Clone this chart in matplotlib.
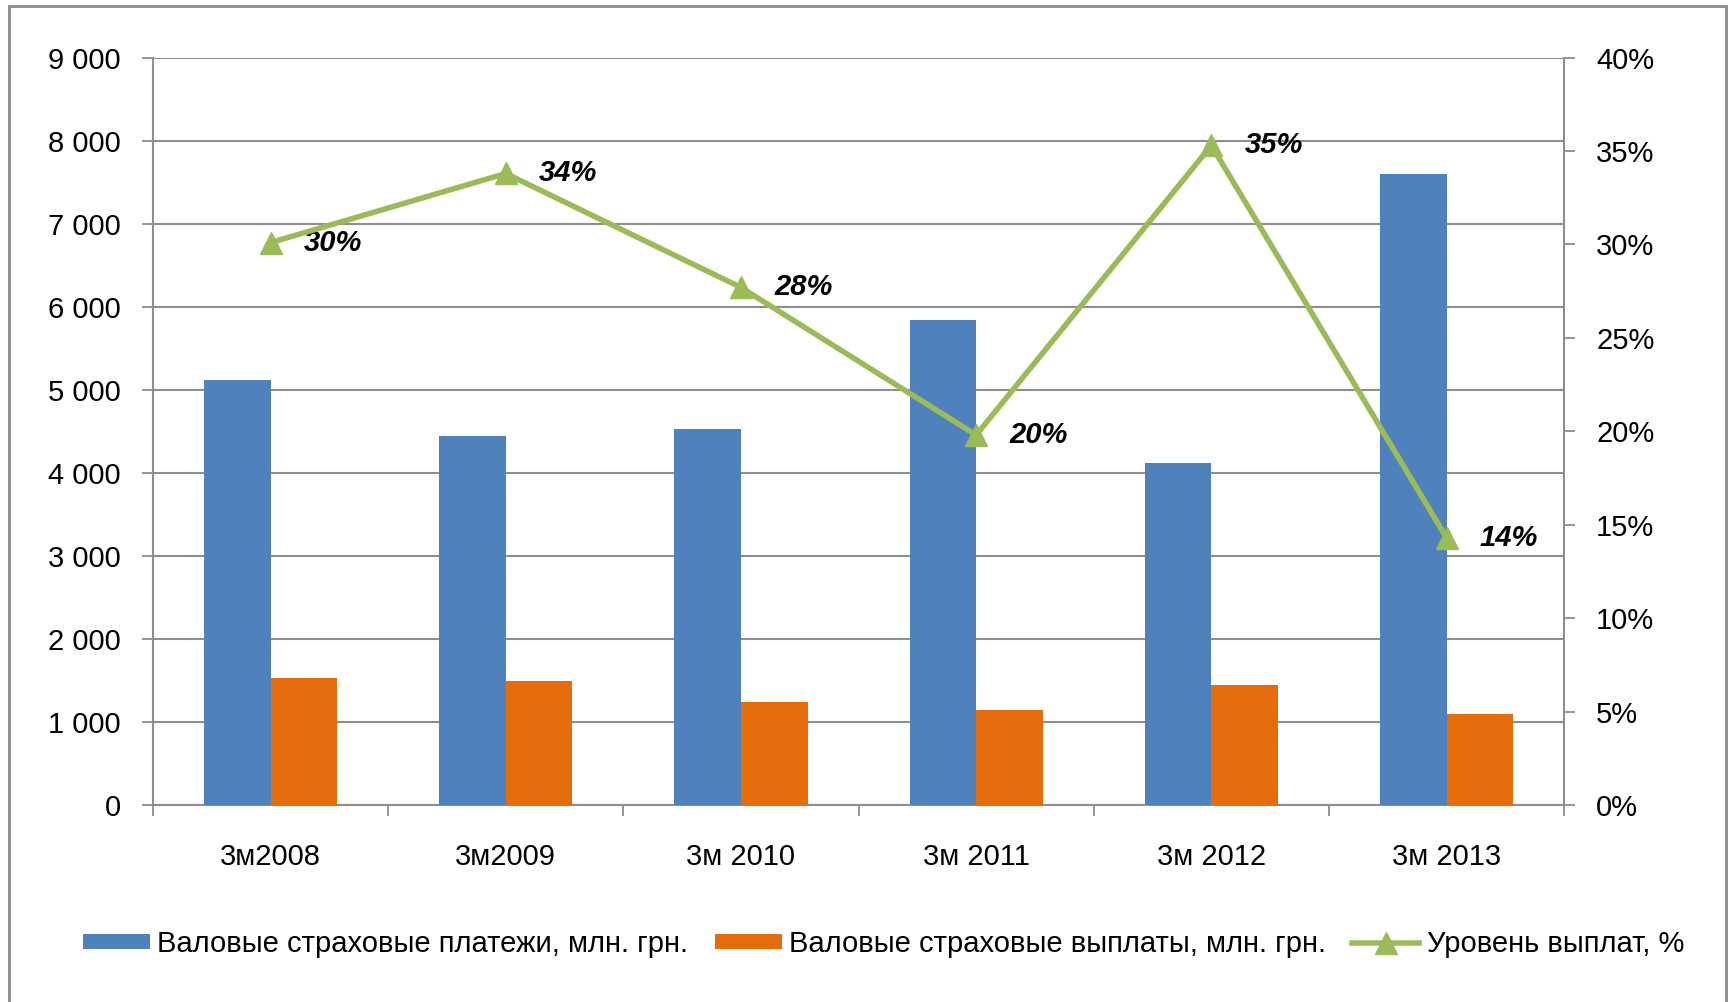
import matplotlib
matplotlib.use("Agg")
import matplotlib.pyplot as plt
import numpy as np
from matplotlib.patches import Rectangle
from matplotlib.ticker import FuncFormatter, MultipleLocator

plt.rcParams["font.family"] = ["Liberation Sans Narrow", "Liberation Sans", "DejaVu Sans"]

# data
periods = ["3м2008", "3м2009", "3м 2010", "3м 2011", "3м 2012", "3м 2013"]
payments = [5120, 4445, 4525, 5840, 4120, 7600]   # валовые страховые платежи
claims = [1530, 1490, 1240, 1150, 1450, 1090]     # валовые страховые выплаты
level = [0.301, 0.338, 0.277, 0.198, 0.353, 0.143]
level_labels = ["30%", "34%", "28%", "20%", "35%", "14%"]

blue = "#4F81BD"
orange = "#E46C0A"
green = "#9BBB59"
grid_c = "#8E8E8E"

fig = plt.figure(figsize=(17.36, 10.02), dpi=100)
fig.patch.set_facecolor("white")
# outer frame of the chart object
fig.add_artist(Rectangle((0.005, -0.05), 0.989, 1.044, transform=fig.transFigure,
                         fill=False, edgecolor="#8C8C8C", linewidth=2))

ax = fig.add_axes([0.0881, 0.1966, 0.8129, 0.7459])
x = np.arange(len(periods))
w = 0.283
ax.bar(x - w / 2, payments, w, color=blue, label="Валовые страховые платежи, млн. грн.", zorder=3)
ax.bar(x + w / 2, claims, w, color=orange, label="Валовые страховые выплаты, млн. грн.", zorder=3)

ax.set_xlim(-0.5, len(periods) - 0.5)
ax.set_ylim(0, 9000)
ax.yaxis.set_major_locator(MultipleLocator(1000))
ax.yaxis.set_major_formatter(FuncFormatter(lambda v, p: f"{int(v):,}".replace(",", " ")))
ax.grid(axis="y", color=grid_c, linewidth=1.5, zorder=0)

# category boundaries as major ticks, labels on minor ticks
ax.set_xticks(np.arange(-0.5, len(periods), 1.0))
ax.set_xticklabels([])
ax.set_xticks(x, minor=True)
ax.set_xticklabels(periods, minor=True)
ax.tick_params(axis="x", which="major", length=8, width=1.3, color=grid_c, direction="out")
ax.tick_params(axis="x", which="minor", length=0, pad=27, labelsize=21)
ax.tick_params(axis="y", length=8, width=1.3, color=grid_c, pad=15, labelsize=21)

for s in ["top", "right"]:
    ax.spines[s].set_visible(False)
for s in ["left", "bottom"]:
    ax.spines[s].set_color(grid_c)
    ax.spines[s].set_linewidth(1.5)

ax2 = ax.twinx()
ax2.plot(x, level, color=green, linewidth=4, marker="^", markersize=16,
         label="Уровень выплат, %", zorder=5)
ax2.set_ylim(0, 0.40)
ax2.yaxis.set_major_locator(MultipleLocator(0.05))
ax2.yaxis.set_major_formatter(FuncFormatter(lambda v, p: f"{v * 100:.0f}%"))
ax2.tick_params(axis="y", length=8, width=1.3, color=grid_c, pad=15, labelsize=21)
for s in ["top", "left", "bottom"]:
    ax2.spines[s].set_visible(False)
ax2.spines["right"].set_color(grid_c)
ax2.spines["right"].set_linewidth(1.5)

for xi, yi, t in zip(x, level, level_labels):
    ax2.annotate(t, (xi, yi), xytext=(24, 0), textcoords="offset points",
                 ha="left", va="center", fontsize=21, fontweight="bold", fontstyle="italic")

h1, l1 = ax.get_legend_handles_labels()
h2, l2 = ax2.get_legend_handles_labels()
fig.legend(h1 + h2, l1 + l2, loc="center", bbox_to_anchor=(0.509, 0.058), ncol=3,
           frameon=False, fontsize=21, handlelength=2.3, handleheight=0.45,
           handletextpad=0.25, columnspacing=0.9)

fig.savefig("out.png", dpi=100)
